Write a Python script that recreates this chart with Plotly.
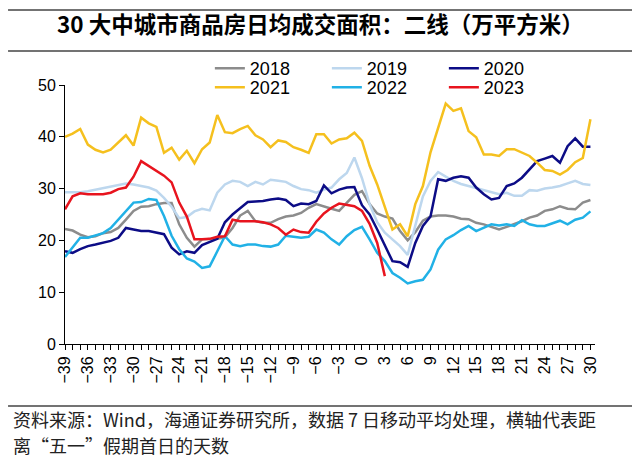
import plotly.graph_objects as go

days = list(range(-39, 31))

y2018 = [22.2, 21.9, 21.1, 20.6, 20.8, 21.4, 21.6, 22.4, 24.0, 25.7,
         26.5, 26.6, 27.0, 27.2, 27.2, 23.1, 20.5, 18.8, 20.2, 20.2,
         20.3, 20.6, 22.4, 24.8, 25.7, 23.7, 23.4, 23.4, 24.1, 24.6,
         24.8, 25.3, 26.3, 27.0, 26.5, 26.1, 25.7, 27.3, 28.8, 29.5,
         27.0, 25.2, 24.6, 24.2, 21.8, 20.0, 21.6, 23.8, 24.6, 24.8,
         24.8, 24.6, 24.2, 24.1, 23.4, 23.1, 22.6, 22.1, 22.6, 23.1,
         23.7, 24.4, 24.8, 25.7, 26.0, 26.6, 26.1, 26.0, 27.3, 27.8]

y2019 = [29.3, 29.3, 29.3, 29.5, 29.8, 30.0, 30.3, 30.6, 31.0, 30.8,
         30.5, 30.2, 29.6, 28.2, 26.5, 24.3, 24.5, 25.6, 26.1, 25.8,
         29.2, 30.8, 31.5, 31.3, 30.5, 31.3, 30.8, 31.7, 31.5, 31.3,
         30.5, 29.9, 29.7, 29.2, 29.8, 30.2, 31.8, 33.0, 36.0, 32.0,
         27.0, 23.5, 21.5, 20.2, 18.9, 17.2, 23.0, 28.5, 31.5, 33.2,
         32.3, 31.5, 30.9, 30.5, 30.0, 29.6, 29.2, 28.9, 29.2, 28.6,
         28.6, 29.7, 29.6, 30.0, 30.2, 30.5, 31.0, 31.5, 30.9, 30.7]

y2020 = [17.9, 17.6, 18.3, 18.9, 19.2, 19.6, 19.9, 20.5, 22.4, 22.1,
         21.8, 21.8, 21.5, 21.2, 18.6, 17.3, 17.9, 17.6, 19.1, 19.7,
         20.3, 23.5, 25.0, 26.2, 27.4, 27.5, 27.6, 27.9, 28.1, 27.8,
         26.6, 27.1, 27.0, 27.6, 30.6, 29.1, 29.8, 30.2, 30.3, 26.8,
         25.0, 22.1, 18.9, 16.0, 15.8, 14.9, 19.5, 22.8, 24.6, 31.8,
         31.5, 32.1, 32.4, 32.1, 30.2, 28.9, 27.9, 28.2, 30.5, 31.0,
         32.1, 33.7, 35.3, 35.8, 36.3, 35.0, 38.2, 39.7, 38.1, 38.1]

y2021 = [40.0, 40.6, 41.5, 38.5, 37.5, 37.0, 37.5, 39.0, 40.3, 38.3,
         43.7, 42.6, 41.9, 36.9, 37.9, 35.6, 37.3, 34.9, 37.6, 38.9,
         44.2, 40.9, 40.7, 41.5, 42.1, 40.3, 39.5, 38.0, 39.3, 39.0,
         38.0, 37.5, 36.9, 40.5, 40.5, 38.7, 39.5, 39.7, 40.8, 39.2,
         34.4, 30.8, 26.5, 22.1, 23.1, 20.8, 27.0, 30.5, 37.0, 41.5,
         46.4, 45.0, 45.5, 41.1, 39.9, 36.6, 36.6, 36.3, 37.6, 37.6,
         37.0, 36.3, 35.0, 33.6, 33.4, 32.7, 33.6, 35.1, 35.9, 43.4]

y2022 = [16.8, 18.6, 20.5, 20.5, 20.9, 21.4, 22.4, 24.0, 25.7, 27.3,
         27.4, 28.0, 27.8, 24.7, 20.9, 18.3, 16.5, 15.9, 14.7, 15.0,
         17.9, 20.8, 19.2, 18.9, 19.2, 19.2, 18.9, 18.8, 19.2, 20.9,
         20.7, 20.5, 20.7, 22.1, 21.5, 20.2, 19.2, 20.8, 22.0, 22.6,
         20.2, 17.6, 16.0, 13.7, 12.8, 11.7, 12.1, 12.4, 14.4, 18.2,
         20.2, 21.0, 22.0, 22.8, 21.8, 22.4, 23.1, 22.9, 23.1, 22.8,
         23.9, 23.1, 22.8, 22.8, 23.3, 23.8, 23.1, 24.0, 24.4, 25.6]

y2023 = [26.0, 28.5, 29.1, 28.9, 28.9, 28.9, 29.2, 29.9, 30.2, 32.3,
         35.3, 34.4, 33.4, 32.5, 31.2, 27.3, 24.6, 20.2, 20.2, 20.3,
         20.7, 20.8, 24.0, 23.7, 23.7, 23.7, 23.5, 23.1, 22.4, 21.1,
         22.1, 21.6, 21.5, 23.6, 25.2, 26.3, 27.1, 26.8, 26.6, 25.7,
         23.2, 19.5, 13.1]

series_names = ["2018", "2019", "2020", "2021", "2022", "2023"]
series_values = [y2018, y2019, y2020, y2021, y2022, y2023]
series_colors = ["#8C8C8C", "#BDD7EE", "#0C0C86", "#F5C01E", "#21B1E6", "#E8141E"]
legend_ids = ["legend", "legend", "legend", "legend2", "legend2", "legend2"]

title_text = "<b>30 大中城市商品房日均成交面积：二线（万平方米）</b>"
footer_line1 = "资料来源：Wind，海通证券研究所，数据 7 日移动平均处理，横轴代表距"
footer_line2 = "离“五一”假期首日的天数"

W, H = 640, 464
L, R, T, B = 57, 52.5, 77, 128
pw = W - L - R
ph = H - T - B


def px_x(p):
    return (p - L) / pw


def px_y(p):
    return (H - B - p) / ph


fig = go.Figure()
for name, vals, col, lg in zip(series_names, series_values, series_colors, legend_ids):
    fig.add_trace(go.Scatter(
        x=days[:len(vals)], y=vals, mode="lines", name=name,
        line=dict(color=col, width=2.5), legend=lg,
    ))

tick_font = dict(family="Liberation Sans, Arial", size=16, color="#000")
leg_common = dict(
    orientation="h", xanchor="left", yanchor="top",
    font=dict(family="Liberation Sans, Arial", size=18, color="#000"),
    entrywidth=72, entrywidthmode="pixels", bgcolor="rgba(0,0,0,0)",
    itemwidth=30, tracegroupgap=0,
)
foot_font = dict(family="Noto Sans CJK SC", size=18, color="#222")

fig.update_layout(
    width=W, height=H,
    margin=dict(l=L, r=R, t=T, b=B, pad=0),
    paper_bgcolor="white", plot_bgcolor="white",
    showlegend=True,
    legend=dict(x=px_x(202), y=px_y(42), **leg_common),
    legend2=dict(x=px_x(202), y=px_y(61), **leg_common),
    xaxis=dict(
        range=[-39, 30.6], tick0=0, dtick=3, tickangle=-90,
        ticks="outside", ticklen=5, tickwidth=1, tickcolor="#000",
        minor=dict(dtick=1, ticks="outside", ticklen=5, tickwidth=1, tickcolor="#000"),
        showline=True, linecolor="#000", linewidth=1,
        showgrid=False, zeroline=False, tickfont=tick_font, automargin=False,
    ),
    yaxis=dict(
        range=[0, 50], dtick=10, ticks="outside", ticklen=5, tickwidth=1,
        tickcolor="#000", showline=True, linecolor="#000", linewidth=1,
        showgrid=False, zeroline=False, tickfont=tick_font, automargin=False,
    ),
    annotations=[
        dict(text=title_text, x=px_x(313), y=px_y(15), xref="paper", yref="paper",
             xanchor="center", yanchor="middle", showarrow=False,
             font=dict(family="Noto Sans CJK SC", size=22.5, color="#000")),
        dict(text=footer_line1, x=px_x(4), y=px_y(397), xref="paper", yref="paper",
             xanchor="left", yanchor="top", showarrow=False, borderpad=0,
             font=foot_font),
        dict(text=footer_line2, x=px_x(4), y=px_y(423), xref="paper", yref="paper",
             xanchor="left", yanchor="top", showarrow=False, borderpad=0,
             font=foot_font),
    ],
    shapes=[
        dict(type="line", xref="paper", yref="paper", x0=px_x(0), x1=px_x(640),
             y0=px_y(2), y1=px_y(2), line=dict(color="#444", width=1.5)),
        dict(type="line", xref="paper", yref="paper", x0=px_x(0), x1=px_x(640),
             y0=px_y(43), y1=px_y(43), line=dict(color="#444", width=1.5)),
        dict(type="line", xref="paper", yref="paper", x0=px_x(0), x1=px_x(640),
             y0=px_y(398), y1=px_y(398), line=dict(color="#444", width=1.5)),
    ],
)

fig.write_html("out.html")
